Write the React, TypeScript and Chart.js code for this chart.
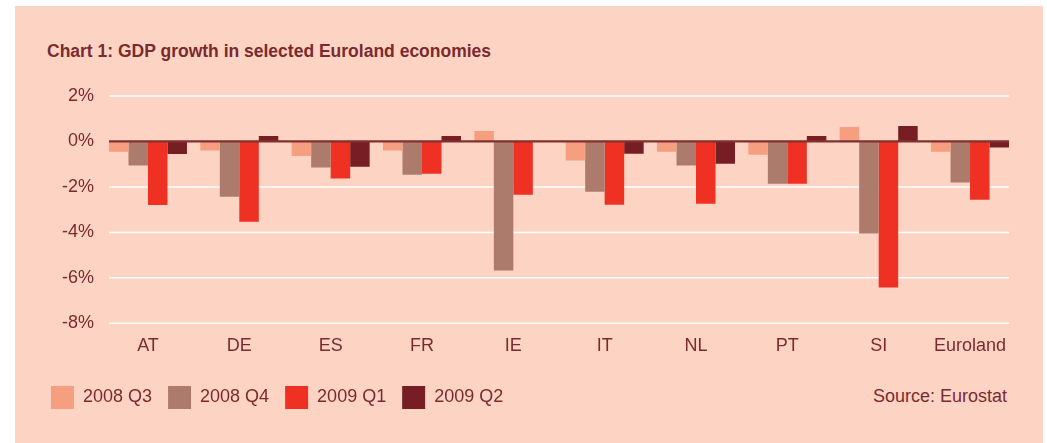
import React, { useEffect, useRef } from 'react';
import { Chart, registerables } from 'chart.js';

Chart.register(...registerables);

const categories = ['AT', 'DE', 'ES', 'FR', 'IE', 'IT', 'NL', 'PT', 'SI', 'Euroland'];
const seriesLabels = ['2008 Q3', '2008 Q4', '2009 Q1', '2009 Q2'];
const q3_2008 = [-0.45, -0.4, -0.64, -0.4, 0.46, -0.84, -0.45, -0.58, 0.64, -0.45];
const q4_2008 = [-1.06, -2.43, -1.15, -1.46, -5.68, -2.21, -1.06, -1.86, -4.05, -1.81];
const q1_2009 = [-2.79, -3.53, -1.63, -1.42, -2.34, -2.78, -2.74, -1.86, -6.43, -2.56];
const q2_2009 = [-0.55, 0.24, -1.11, 0.24, null, -0.54, -0.98, 0.24, 0.68, -0.27];
const seriesColors = ['#F59F80', '#AC7B6C', '#EE3123', '#761E23'];
const yMin = -8;
const yMax = 2;
const yStep = 2;

const FONT = '"Liberation Sans", Arial, Helvetica, sans-serif';
const TEXT = '#7B2A2F';
const PANEL = '#FDD4C3';
const CAT_PCT = 0.854;

const gridPlugin = {
  id: 'customGrid',
  beforeDatasetsDraw(chart: any) {
    const { ctx, scales } = chart;
    const x = scales.x;
    const y = scales.y;
    const n = categories.length;
    const step = x.getPixelForValue(1) - x.getPixelForValue(0);
    const left = x.getPixelForValue(0) - (step * CAT_PCT) / 2;
    const right = x.getPixelForValue(n - 1) + (step * CAT_PCT) / 2;
    ctx.save();
    ctx.strokeStyle = '#ffffff';
    ctx.lineWidth = 1.5;
    y.ticks.forEach((t: any) => {
      if (t.value === 0) return;
      const py = y.getPixelForValue(t.value);
      ctx.beginPath();
      ctx.moveTo(left, py);
      ctx.lineTo(right, py);
      ctx.stroke();
    });
    ctx.restore();
  },
  afterDatasetsDraw(chart: any) {
    const { ctx, scales } = chart;
    const x = scales.x;
    const y = scales.y;
    const n = categories.length;
    const step = x.getPixelForValue(1) - x.getPixelForValue(0);
    const left = x.getPixelForValue(0) - (step * CAT_PCT) / 2;
    const right = x.getPixelForValue(n - 1) + (step * CAT_PCT) / 2;
    const py = y.getPixelForValue(0);
    ctx.save();
    ctx.strokeStyle = '#80302F';
    ctx.lineWidth = 2.3;
    ctx.beginPath();
    ctx.moveTo(left, py);
    ctx.lineTo(right, py);
    ctx.stroke();
    ctx.restore();
  },
};

export default function App() {
  const ref = useRef<HTMLCanvasElement | null>(null);

  useEffect(() => {
    if (!ref.current) return;
    const series = [q3_2008, q4_2008, q1_2009, q2_2009];
    const chart = new Chart(ref.current, {
      type: 'bar',
      data: {
        labels: categories,
        datasets: series.map((d, i) => ({
          label: seriesLabels[i],
          data: d,
          backgroundColor: seriesColors[i],
          borderColor: seriesColors[i],
          borderWidth: 0,
          barPercentage: 1,
          categoryPercentage: CAT_PCT,
        })),
      },
      options: {
        responsive: false,
        animation: false,
        events: [],
        layout: { padding: { left: 35, right: 31.3, top: 96, bottom: 24 } },
        plugins: {
          title: { display: false },
          tooltip: { enabled: false },
          legend: {
            position: 'bottom',
            align: 'start',
            labels: {
              boxWidth: 23,
              boxHeight: 23,
              padding: 16,
              color: TEXT,
              font: { family: FONT, size: 18 },
            },
          },
        },
        scales: {
          x: {
            grid: { display: false, drawTicks: false },
            border: { display: false },
            ticks: {
              color: TEXT,
              font: { family: FONT, size: 18 },
              padding: 11.6,
              maxRotation: 0,
              autoSkip: false,
            },
            afterFit: (s: any) => {
              s.height = 46.7;
            },
          },
          y: {
            min: yMin,
            max: yMax,
            ticks: {
              stepSize: yStep,
              color: TEXT,
              font: { family: FONT, size: 18 },
              padding: 8.3,
              callback: (v: any) => `${v}%`,
            },
            grid: { display: false, drawTicks: false },
            border: { display: false },
            afterFit: (s: any) => {
              s.width = 67.3;
            },
          },
        },
      },
      plugins: [gridPlugin],
    } as any);
    return () => chart.destroy();
  }, []);

  return (
    <div style={{ position: 'fixed', left: 0, top: 0, width: 1047, height: 443, background: '#ffffff', overflow: 'hidden' }}>
      <div style={{ position: 'absolute', left: 15, top: 6, width: 1028, height: 437, background: PANEL }} />
      <div
        style={{
          position: 'absolute',
          left: 47,
          top: 43.2,
          fontFamily: FONT,
          fontWeight: 'bold',
          fontSize: 17.5,
          lineHeight: 1,
          color: TEXT,
          whiteSpace: 'nowrap',
        }}
      >
        Chart 1: GDP growth in selected Euroland economies
      </div>
      <div
        style={{
          position: 'absolute',
          left: 0,
          width: 1007,
          top: 387,
          textAlign: 'right',
          fontFamily: FONT,
          fontSize: 18,
          lineHeight: 1,
          color: TEXT,
          whiteSpace: 'nowrap',
        }}
      >
        Source: Eurostat
      </div>
      <canvas
        ref={ref}
        width={1047}
        height={443}
        style={{ position: 'absolute', left: 0, top: 0, width: 1047, height: 443 }}
      />
    </div>
  );
}
